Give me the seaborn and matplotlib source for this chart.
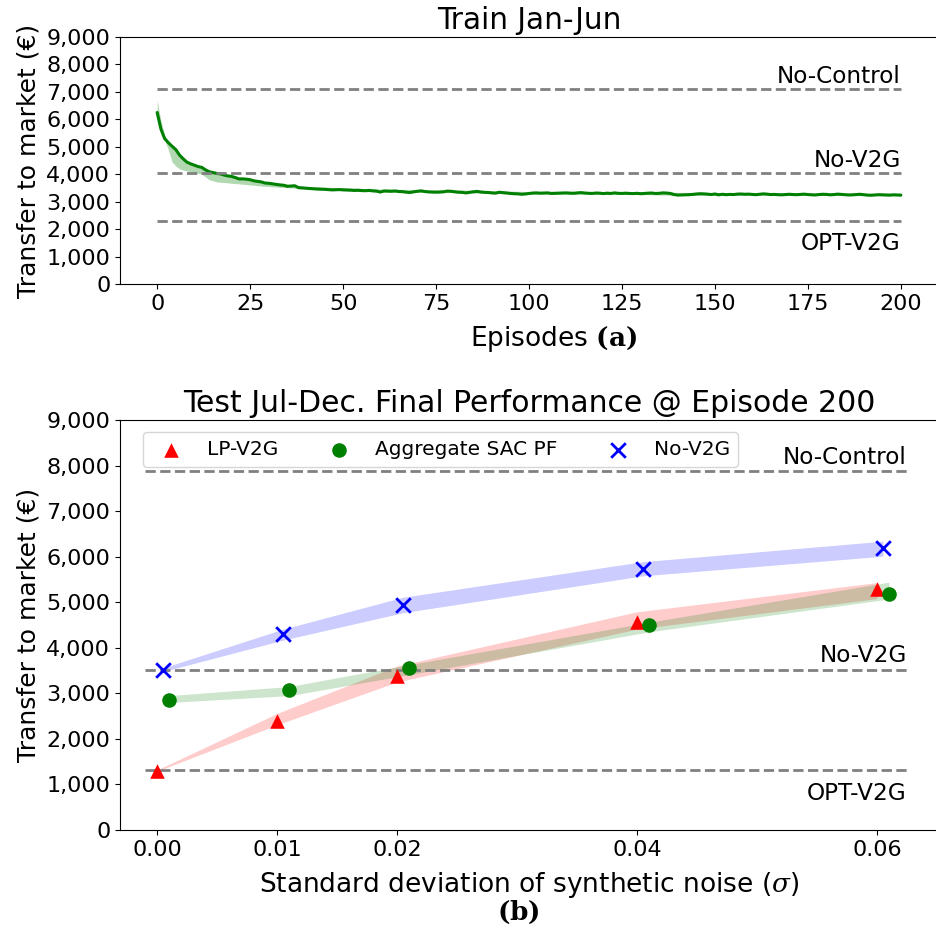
import matplotlib
matplotlib.use("Agg")
import matplotlib.pyplot as plt
import seaborn as sns
import pandas as pd
from matplotlib.ticker import FuncFormatter

sns.set_style("ticks", {"axes.edgecolor": "black", "text.color": "black",
                        "axes.labelcolor": "black", "xtick.color": "black",
                        "ytick.color": "black"})
plt.rcParams["font.family"] = ["DejaVu Sans"]
plt.rcParams["mathtext.fontset"] = "dejavuserif"
plt.rcParams["font.size"] = 16

# ---------------- training curve (Jan-Jun) ----------------
train_cost = [
    6250, 5650, 5300, 5150, 5020, 4900, 4700, 4560, 4440, 4380,
    4330, 4280, 4250, 4160, 4090, 4060, 4030, 4010, 3970, 3940,
    3920, 3880, 3830, 3830, 3820, 3800, 3760, 3740, 3720, 3680,
    3670, 3650, 3630, 3610, 3600, 3560, 3570, 3580, 3510, 3500,
    3490, 3480, 3470, 3460, 3455, 3450, 3440, 3430, 3435, 3440,
    3430, 3425, 3420, 3410, 3415, 3405, 3400, 3410, 3395, 3385,
    3350, 3390, 3385, 3380, 3390, 3370, 3365, 3345, 3335, 3360,
    3380, 3395, 3370, 3355, 3350, 3345, 3350, 3360, 3385, 3380,
    3360, 3345, 3340, 3320, 3340, 3360, 3375, 3355, 3340, 3335,
    3320, 3310, 3345, 3330, 3315, 3300, 3290, 3285, 3270, 3280,
    3300, 3315, 3320, 3310, 3315, 3320, 3300, 3305, 3310, 3315,
    3320, 3310, 3305, 3320, 3330, 3315, 3305, 3300, 3315, 3310,
    3295, 3310, 3300, 3320, 3305, 3300, 3310, 3300, 3295, 3305,
    3290, 3300, 3310, 3315, 3300, 3305, 3320, 3315, 3300, 3260,
    3240, 3245, 3250, 3255, 3265, 3280, 3290, 3285, 3275, 3260,
    3280, 3250, 3270, 3255, 3265, 3260, 3275, 3280, 3270, 3275,
    3265, 3255, 3270, 3285, 3275, 3260, 3265, 3255, 3250, 3260,
    3270, 3260, 3255, 3265, 3275, 3260, 3250, 3245, 3260, 3270,
    3265, 3250, 3260, 3275, 3265, 3255, 3245, 3250, 3260, 3270,
    3255, 3240, 3235, 3245, 3255, 3250, 3245, 3240, 3250, 3245,
    3240,
]
episodes = list(range(len(train_cost)))

band_episodes = [0, 1, 2, 3, 4, 5, 6, 7, 8, 10, 12, 14, 16, 18, 20, 22, 25, 28,
                 30, 35, 40, 45, 50, 60, 70, 80, 90, 100, 110, 120, 130, 140,
                 150, 160, 170, 180, 190, 200]
band_upper = [6680, 5950, 5420, 5200, 5060, 4930, 4740, 4600, 4470, 4360, 4270,
              4110, 4050, 4000, 3950, 3880, 3830, 3760, 3720, 3640, 3560, 3530,
              3510, 3460, 3440, 3430, 3400, 3370, 3380, 3370, 3360, 3340, 3330,
              3320, 3320, 3310, 3300, 3290]
band_lower = [6250, 5600, 5250, 4900, 4450, 4300, 4200, 4150, 4120, 4060, 4000,
              3800, 3720, 3700, 3670, 3650, 3610, 3570, 3550, 3510, 3470, 3440,
              3410, 3350, 3340, 3330, 3300, 3270, 3280, 3270, 3260, 3230, 3240,
              3240, 3230, 3230, 3220, 3210]

train_refs = {"No-Control": 7100, "No-V2G": 4030, "OPT-V2G": 2300}

# ---------------- test results (Jul-Dec) ----------------
noise_sigma = [0.00, 0.01, 0.02, 0.04, 0.06]
sigma_labels = ["0.00", "0.01", "0.02", "0.04", "0.06"]

lp_mean = [1300, 2400, 3390, 4570, 5290]
lp_low = [1290, 2310, 3250, 4410, 5080]
lp_high = [1320, 2560, 3600, 4790, 5430]

sac_mean = [2860, 3080, 3550, 4510, 5190]
sac_low = [2800, 2950, 3410, 4350, 5070]
sac_high = [2950, 3150, 3630, 4560, 5440]

nov2g_mean = [3510, 4300, 4930, 5740, 6180]
nov2g_low = [3480, 4170, 4770, 5580, 6010]
nov2g_high = [3560, 4410, 5110, 5890, 6340]

test_refs = {"No-Control": 7880, "No-V2G": 3520, "OPT-V2G": 1310}

thousands = FuncFormatter(lambda v, p: f"{int(v):,}")

fig = plt.figure(figsize=(9.36, 9.30), dpi=100)
ax1 = fig.add_axes([0.1282, 0.6946, 0.874, 0.2656])
ax2 = fig.add_axes([0.1282, 0.1075, 0.874, 0.4409])

# --- top panel
ax1.fill_between(band_episodes, band_lower, band_upper, color="green", alpha=0.3, linewidth=0)
sns.lineplot(x=episodes, y=train_cost, ax=ax1, color="green", linewidth=2.2)
for name, val in train_refs.items():
    ax1.hlines(val, 0, 200, colors="gray", linestyles="--", linewidth=2)
for name, off, va in [("No-Control", 220, "baseline"), ("No-V2G", 220, "baseline"),
                      ("OPT-V2G", -400, "top")]:
    ax1.text(200, train_refs[name] + off, name, ha="right", va=va, fontsize=16.7)
ax1.set_xlim(-10, 210)
ax1.set_ylim(0, 9000)
ax1.set_yticks(range(0, 9001, 1000))
ax1.yaxis.set_major_formatter(thousands)
ax1.set_xlabel(r"Episodes $\mathbf{(a)}$", fontsize=19)
ax1.xaxis.set_label_coords(0.53, -0.16)
ax1.set_ylabel("Transfer to market (€)", fontsize=18)
ax1.set_title("Train Jan-Jun", fontsize=21.3)

# --- bottom panel
series = [
    ("LP-V2G", lp_mean, lp_low, lp_high, 0.0, "red", "^"),
    ("Aggregate SAC PF", sac_mean, sac_low, sac_high, 0.001, "green", "o"),
    ("No-V2G", nov2g_mean, nov2g_low, nov2g_high, 0.0005, "blue", "x"),
]
for label, mean, low, high, shift, color, marker in series:
    xs = [s + shift for s in noise_sigma]
    ax2.fill_between(xs, low, high, color=color, alpha=0.2, linewidth=0)
for label, mean, low, high, shift, color, marker in series:
    xs = [s + shift for s in noise_sigma]
    df = pd.DataFrame({"sigma": xs, "cost": mean})
    sns.scatterplot(data=df, x="sigma", y="cost", ax=ax2, color=color, marker=marker,
                    s=110, linewidth=2 if marker == "x" else 0, label=label, zorder=3)

for name, val in test_refs.items():
    ax2.hlines(val, -0.001, 0.0625, colors="gray", linestyles="--", linewidth=2)
for name, off, va in [("No-Control", 150, "baseline"), ("No-V2G", 170, "baseline"),
                      ("OPT-V2G", -260, "top")]:
    ax2.text(0.0625, test_refs[name] + off, name, ha="right", va=va, fontsize=16.7)

ax2.set_xlim(-0.0031, 0.0651)
ax2.set_ylim(0, 9000)
ax2.set_xticks(noise_sigma)
ax2.set_xticklabels(sigma_labels)
ax2.set_yticks(range(0, 9001, 1000))
ax2.yaxis.set_major_formatter(thousands)
ax2.set_xlabel("Standard deviation of synthetic noise ($\\sigma$)", fontsize=19)
ax2.xaxis.set_label_coords(0.5, -0.098)
ax2.text(0.487, -0.2, r"$\mathbf{(b)}$", transform=ax2.transAxes, ha="center",
         va="center", fontsize=19)
ax2.set_ylabel("Transfer to market (€)", fontsize=18)
ax2.set_title("Test Jul-Dec. Final Performance @ Episode 200", fontsize=21.5)
ax2.legend(loc="upper left", bbox_to_anchor=(0.028, 0.971), borderaxespad=0,
           ncol=3, fontsize=14.5, frameon=True)

for ax in (ax1, ax2):
    ax.tick_params(labelsize=16)

fig.savefig("out.png", dpi=100)
